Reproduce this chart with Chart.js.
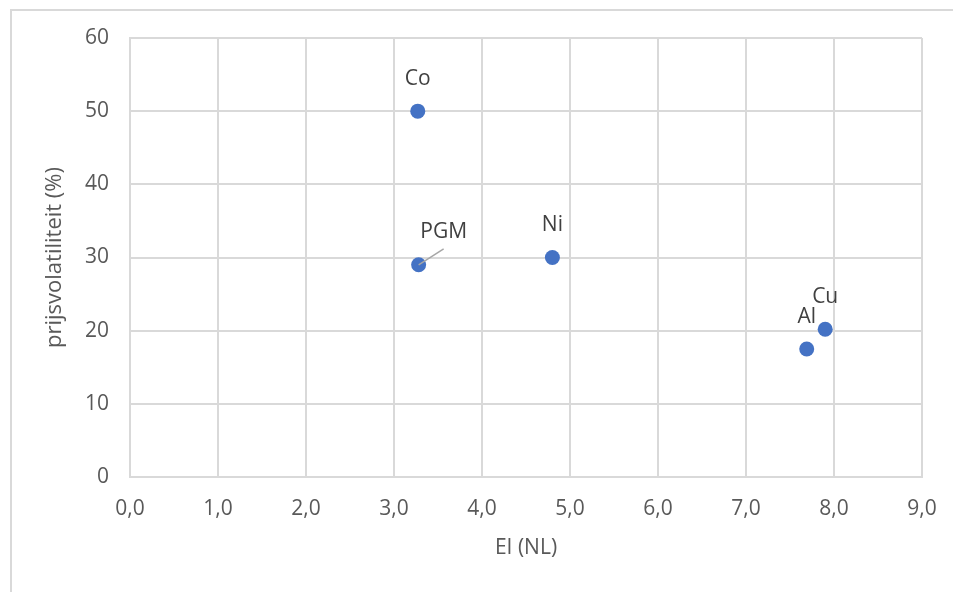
<!DOCTYPE html>
<html>
<head>
<meta charset="utf-8">
<script src="https://cdn.jsdelivr.net/npm/chart.js@4/dist/chart.umd.min.js"></script>
<style>
  html, body { margin: 0; padding: 0; background: #fff; }
  #wrap { position: relative; width: 953px; height: 592px; }
  #frame {
    position: absolute; left: 10px; top: 9px; width: 960px; height: 600px;
    border-top: 2px solid #d9d9d9; border-left: 2px solid #d9d9d9;
    box-sizing: border-box; pointer-events: none;
  }
  canvas { position: absolute; left: 0; top: 0; }
</style>
</head>
<body>
<div id="wrap">
  <div id="frame"></div>
  <canvas id="chart" width="953" height="592"></canvas>
</div>
<script>
// --- Data ---
const metals = ['Co', 'PGM', 'Ni', 'Al', 'Cu'];
const eiValues = [3.27, 3.28, 4.8, 7.69, 7.9];
const volatility = [50, 29, 30, 17.5, 20.2];

const X_TICK_MIN = 0, X_TICK_MAX = 9, X_STEP = 1;
const Y_TICK_MIN = 0, Y_TICK_MAX = 60, Y_STEP = 10;

const FONT = "'Open Sans', 'Noto Sans', sans-serif";
const FONT_SIZE = 21;
const TEXT_COLOR = '#595959';
const GRID_COLOR = '#d9d9d9';
const POINT_COLOR = '#4472C4';

// label offsets (px) relative to the point; PGM gets a leader line
const labelShift = { PGM: [25, -33] };

const pointLabels = {
  id: 'pointLabels',
  afterDatasetsDraw(chart) {
    const ctx = chart.ctx;
    const meta = chart.getDatasetMeta(0);
    ctx.save();
    ctx.font = FONT_SIZE + 'px ' + FONT;
    ctx.fillStyle = '#404040';
    ctx.textAlign = 'center';
    ctx.textBaseline = 'middle';
    meta.data.forEach((pt, i) => {
      const name = metals[i];
      const shift = labelShift[name] || [0, -32];
      const lx = pt.x + shift[0];
      const ly = pt.y + shift[1];
      if (labelShift[name]) {
        ctx.strokeStyle = '#a6a6a6';
        ctx.lineWidth = 1.5;
        ctx.beginPath();
        ctx.moveTo(pt.x, pt.y);
        ctx.lineTo(lx, ly + 17);
        ctx.stroke();
      }
      ctx.fillText(name, lx, ly);
    });
    ctx.restore();
  }
};

const points = eiValues.map((x, i) => ({ x: x, y: volatility[i] }));

new Chart(document.getElementById('chart'), {
  type: 'scatter',
  data: {
    datasets: [{
      data: points,
      pointRadius: 7.5,
      pointHoverRadius: 7.5,
      backgroundColor: POINT_COLOR,
      borderColor: POINT_COLOR,
      borderWidth: 0
    }]
  },
  options: {
    responsive: false,
    animation: false,
    layout: { padding: { left: 0, right: 31, top: 38, bottom: 0 } },
    plugins: { legend: { display: false }, tooltip: { enabled: false } },
    scales: {
      x: {
        type: 'linear',
        min: X_TICK_MIN, max: X_TICK_MAX,
        afterFit: s => { s.height = 115; s.paddingLeft = 0; s.paddingRight = 0; },
        grid: { color: GRID_COLOR, lineWidth: 2, drawTicks: false },
        border: { color: GRID_COLOR, width: 2 },
        ticks: {
          stepSize: X_STEP, padding: 19, color: TEXT_COLOR,
          font: { family: FONT, size: FONT_SIZE },
          callback: v => v.toFixed(1).replace('.', ',')
        },
        title: {
          display: true, text: 'EI (NL)', color: TEXT_COLOR,
          font: { family: FONT, size: FONT_SIZE },
          padding: { top: 0, bottom: 31 }
        }
      },
      y: {
        min: Y_TICK_MIN, max: Y_TICK_MAX,
        afterFit: s => { s.width = 130; s.paddingTop = 0; s.paddingBottom = 0; },
        grid: { color: GRID_COLOR, lineWidth: 2, drawTicks: false },
        border: { color: GRID_COLOR, width: 2 },
        ticks: {
          stepSize: Y_STEP, padding: 21, color: TEXT_COLOR,
          font: { family: FONT, size: FONT_SIZE }
        },
        title: {
          display: true, text: 'prijsvolatiliteit (%)', color: TEXT_COLOR,
          font: { family: FONT, size: 22 },
          padding: { top: 42, bottom: 0 }
        }
      }
    }
  },
  plugins: [pointLabels]
});
</script>
</body>
</html>
